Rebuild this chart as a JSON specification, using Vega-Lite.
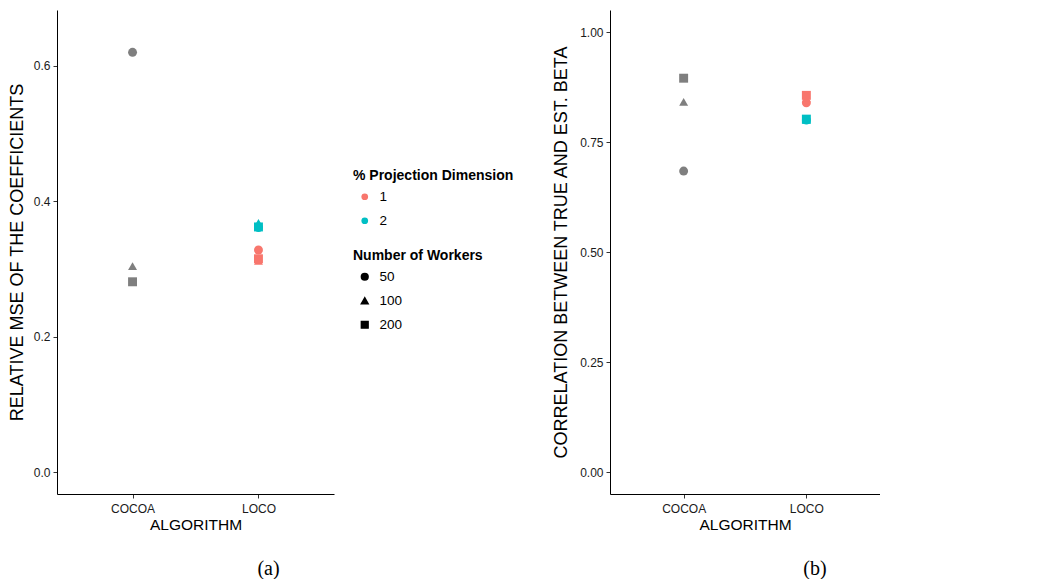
{
  "$schema": "https://vega.github.io/schema/vega-lite/v6.json",
  "background": "white",
  "padding": {"left": 8, "top": 10, "right": 0, "bottom": 0},
  "spacing": 218,
  "config": {
    "font": "Liberation Sans",
    "view": {"stroke": null},
    "axis": {
      "grid": false,
      "domainColor": "black",
      "domainWidth": 1,
      "tickColor": "#333333",
      "tickSize": 4,
      "labelColor": "#1a1a1a",
      "labelFontSize": 12,
      "labelPadding": 3,
      "titleFontSize": 15.5,
      "titleFontWeight": "normal",
      "titleColor": "black"
    },
    "legend": {
      "titleFontSize": 14,
      "titleFontWeight": "bold",
      "titleColor": "black",
      "labelFontSize": 13.5,
      "labelColor": "black",
      "symbolSize": 45,
      "rowPadding": 9,
      "titlePadding": 7,
      "symbolOffset": 5,
      "labelOffset": 8
    }
  },
  "hconcat": [
    {
      "width": 277,
      "height": 484,
      "title": {"text": "(a)", "orient": "bottom", "font": "Liberation Serif", "fontSize": 20, "fontWeight": "normal", "dx": 73, "offset": 26, "color": "black"},
      "data": {"values": [
        {"algorithm": "COCOA", "workers": 50, "proj": null, "value": 0.62},
        {"algorithm": "COCOA", "workers": 100, "proj": null, "value": 0.304},
        {"algorithm": "COCOA", "workers": 200, "proj": null, "value": 0.281},
        {"algorithm": "LOCO", "workers": 50, "proj": 1, "value": 0.328},
        {"algorithm": "LOCO", "workers": 100, "proj": 1, "value": 0.312},
        {"algorithm": "LOCO", "workers": 200, "proj": 1, "value": 0.315},
        {"algorithm": "LOCO", "workers": 50, "proj": 2, "value": 0.361},
        {"algorithm": "LOCO", "workers": 100, "proj": 2, "value": 0.368},
        {"algorithm": "LOCO", "workers": 200, "proj": 2, "value": 0.362}
      ]},
      "encoding": {
        "x": {"field": "algorithm", "type": "nominal", "scale": {"type": "point", "domain": ["COCOA", "LOCO"], "padding": 0.6}, "axis": {"title": "ALGORITHM", "labelAngle": 0, "labelPadding": 5, "titlePadding": 3}},
        "y": {"field": "value", "type": "quantitative", "scale": {"domain": [-0.0325, 0.6825], "nice": false, "zero": false}, "axis": {"title": "RELATIVE MSE OF THE COEFFICIENTS", "titleFontSize": 18, "values": [0, 0.2, 0.4, 0.6], "format": ".1f", "titlePadding": 7}}
      },
      "layer": [
        {
          "transform": [{"filter": "datum.algorithm === 'LOCO'"}],
          "mark": {"type": "point", "filled": true, "size": 80, "opacity": 1},
          "encoding": {
            "shape": {"field": "workers", "type": "nominal", "scale": {"domain": [50, 100, 200], "range": ["circle", "triangle-up", "square"]}, "legend": {"title": "Number of Workers", "orient": "none", "legendX": 296, "legendY": 239, "symbolFillColor": "black", "symbolStrokeColor": "black"}},
            "color": {"field": "proj", "type": "nominal", "scale": {"domain": [1, 2], "range": ["#F8766D", "#00BFC4"]}, "legend": {"title": "% Projection Dimension", "orient": "none", "legendX": 296, "legendY": 159, "symbolType": "circle"}}
          }
        },
        {
          "transform": [{"filter": "datum.algorithm === 'COCOA'"}],
          "mark": {"type": "point", "filled": true, "size": 80, "opacity": 1, "color": "#7f7f7f"},
          "encoding": {
            "shape": {"field": "workers", "type": "nominal", "legend": null}
          }
        }
      ]
    },
    {
      "width": 270,
      "height": 484,
      "title": {"text": "(b)", "orient": "bottom", "font": "Liberation Serif", "fontSize": 20, "fontWeight": "normal", "dx": 70, "offset": 26, "color": "black"},
      "data": {"values": [
        {"algorithm": "COCOA", "workers": 50, "proj": null, "value": 0.684},
        {"algorithm": "COCOA", "workers": 100, "proj": null, "value": 0.841},
        {"algorithm": "COCOA", "workers": 200, "proj": null, "value": 0.895},
        {"algorithm": "LOCO", "workers": 50, "proj": 1, "value": 0.839},
        {"algorithm": "LOCO", "workers": 100, "proj": 1, "value": 0.85},
        {"algorithm": "LOCO", "workers": 200, "proj": 1, "value": 0.856},
        {"algorithm": "LOCO", "workers": 50, "proj": 2, "value": 0.8},
        {"algorithm": "LOCO", "workers": 100, "proj": 2, "value": 0.8},
        {"algorithm": "LOCO", "workers": 200, "proj": 2, "value": 0.802}
      ]},
      "encoding": {
        "x": {"field": "algorithm", "type": "nominal", "scale": {"type": "point", "domain": ["COCOA", "LOCO"], "padding": 0.6}, "axis": {"title": "ALGORITHM", "labelAngle": 0, "labelPadding": 5, "titlePadding": 3}},
        "y": {"field": "value", "type": "quantitative", "scale": {"domain": [-0.05, 1.05], "nice": false, "zero": false}, "axis": {"title": "CORRELATION BETWEEN TRUE AND EST. BETA", "titleFontSize": 18, "values": [0, 0.25, 0.5, 0.75, 1], "format": ".2f", "titlePadding": 9}}
      },
      "layer": [
        {
          "transform": [{"filter": "datum.algorithm === 'LOCO'"}],
          "mark": {"type": "point", "filled": true, "size": 80, "opacity": 1},
          "encoding": {
            "shape": {"field": "workers", "type": "nominal", "scale": {"domain": [50, 100, 200], "range": ["circle", "triangle-up", "square"]}, "legend": {"title": "Number of Workers", "orient": "none", "legendX": 288, "legendY": 239, "symbolFillColor": "black", "symbolStrokeColor": "black"}},
            "color": {"field": "proj", "type": "nominal", "scale": {"domain": [1, 2], "range": ["#F8766D", "#00BFC4"]}, "legend": {"title": "% Projection Dimension", "orient": "none", "legendX": 288, "legendY": 159, "symbolType": "circle"}}
          }
        },
        {
          "transform": [{"filter": "datum.algorithm === 'COCOA'"}],
          "mark": {"type": "point", "filled": true, "size": 80, "opacity": 1, "color": "#7f7f7f"},
          "encoding": {
            "shape": {"field": "workers", "type": "nominal", "legend": null}
          }
        }
      ]
    }
  ]
}
